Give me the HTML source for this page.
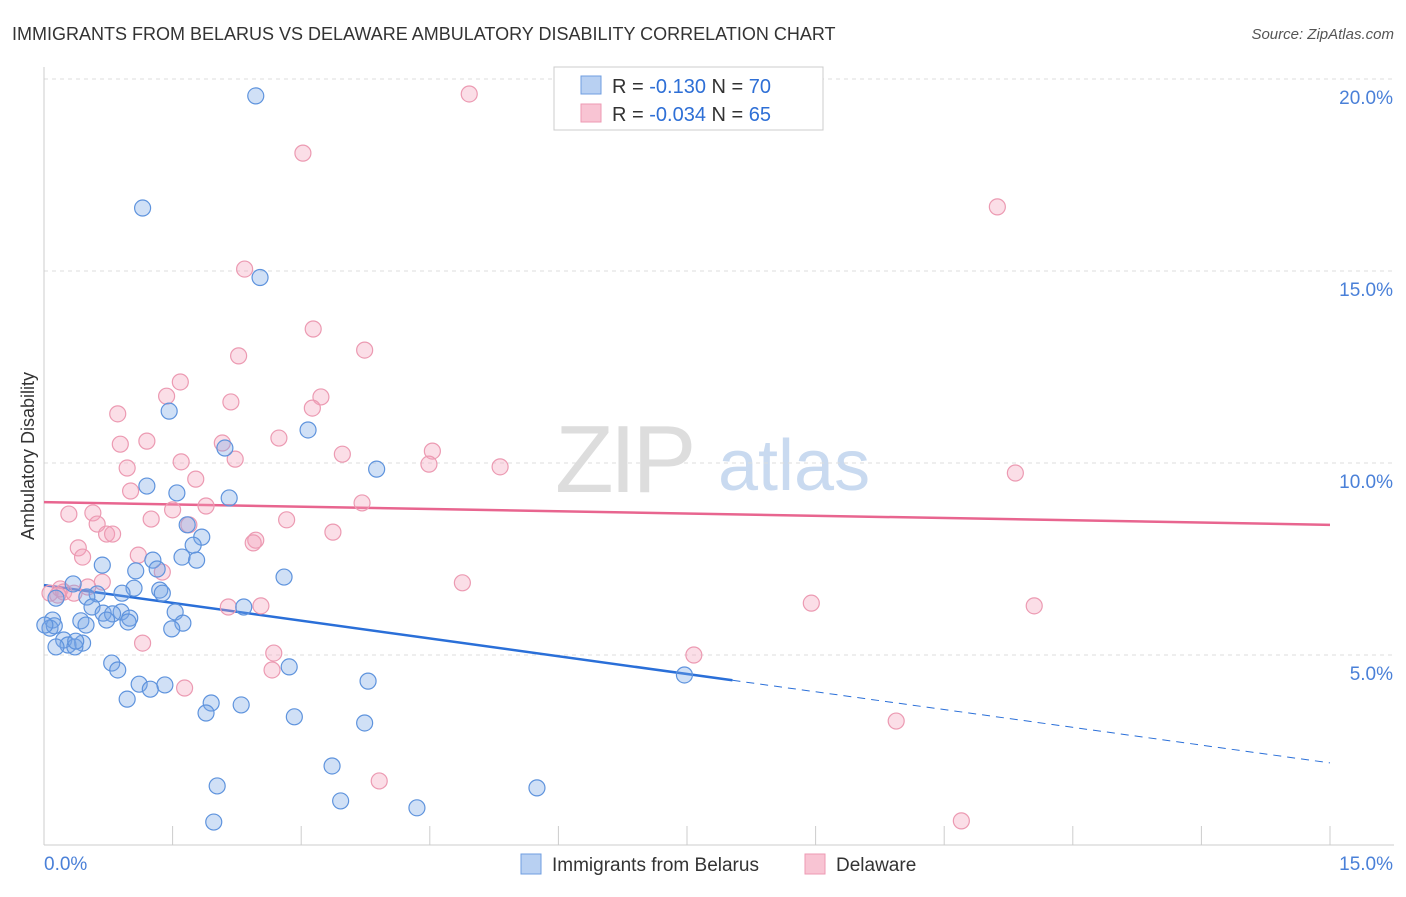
<!DOCTYPE html>
<html><head><meta charset="utf-8"><style>
body{margin:0;background:#fff;font-family:"Liberation Sans",sans-serif}
svg text{font-family:"Liberation Sans",sans-serif}
</style></head><body>
<svg id="chart" width="1406" height="892" viewBox="0 0 1406 892" xmlns="http://www.w3.org/2000/svg">
<text x="12" y="40" font-size="18" fill="#333">IMMIGRANTS FROM BELARUS VS DELAWARE AMBULATORY DISABILITY CORRELATION CHART</text>
<text x="1394" y="39" font-size="15" fill="#555" font-style="italic" text-anchor="end">Source: ZipAtlas.com</text>
<g>
<text x="555" y="492" font-size="96" fill="#ddd" font-family="Liberation Serif" letter-spacing="-4">ZIP</text>
<text x="718" y="490" font-size="72" fill="#c9daf0">atlas</text>
</g>
<g id="grid"></g>
<g id="axes"></g>
<g id="lines"></g>
<g id="pts"></g>
<text transform="translate(34,456) rotate(-90)" font-size="18" fill="#333" text-anchor="middle">Ambulatory Disability</text>
<g>
<rect x="554" y="67" width="269" height="63" fill="#fff" stroke="#ccc"/>
<rect x="581" y="76" width="20" height="18" fill="#b8d0f2" stroke="#6f9ee0"/>
<rect x="581" y="104" width="20" height="18" fill="#f8c4d3" stroke="#ee9ab3"/>
<text x="612" y="93" font-size="20" fill="#333">R = <tspan fill="#2e6fd6">-0.130</tspan>   N = <tspan fill="#2e6fd6">70</tspan></text>
<text x="612" y="121" font-size="20" fill="#333">R = <tspan fill="#2e6fd6">-0.034</tspan>   N = <tspan fill="#2e6fd6">65</tspan></text>
</g>
<g>
<rect x="521" y="854" width="20" height="20" fill="#b8d0f2" stroke="#6f9ee0"/>
<text x="552" y="871" font-size="19" fill="#333">Immigrants from Belarus</text>
<rect x="805" y="854" width="20" height="20" fill="#f8c4d3" stroke="#ee9ab3"/>
<text x="836" y="871" font-size="19" fill="#333">Delaware</text>
</g>
</svg>
<script>
const xTicks=[0,15];
const yTicks=[5,10,15,20];
const blueX=[2.47,1.15,2.52,1.46,3.08,2.11,3.88,1.20,1.55,2.16,1.67,1.84,1.74,1.27,1.61,1.78,0.68,1.07,1.32,2.80,0.34,1.05,1.35,1.38,0.91,0.62,0.50,0.14,0.56,2.33,1.53,0.90,0.69,0.80,1.00,0.43,0.73,0.10,0.98,1.62,1.49,0.49,0.07,0.12,0.23,0.45,0.28,0.14,0.36,0.37,0.79,2.86,0.86,7.47,1.11,3.78,1.41,1.24,0.97,1.95,2.30,1.89,2.92,3.74,3.36,2.02,5.75,3.46,4.35,1.98,0.01];
const blueY=[19.56,16.64,14.83,11.35,10.86,10.39,9.84,9.40,9.22,9.09,8.39,8.07,7.86,7.47,7.55,7.47,7.34,7.19,7.24,7.03,6.85,6.74,6.69,6.61,6.61,6.59,6.51,6.48,6.25,6.25,6.12,6.12,6.09,6.07,5.96,5.89,5.91,5.91,5.86,5.83,5.68,5.78,5.70,5.76,5.39,5.31,5.26,5.21,5.21,5.36,4.79,4.69,4.61,4.48,4.24,4.32,4.22,4.11,3.85,3.75,3.70,3.49,3.39,3.23,2.11,1.59,1.54,1.20,1.02,0.65,5.78];
const pinkX=[4.96,3.02,11.12,2.34,3.14,3.74,2.27,1.59,1.43,3.23,2.18,3.13,0.86,2.74,2.08,1.20,0.89,4.53,3.48,2.23,1.60,4.49,5.32,0.97,11.33,1.77,1.01,3.71,1.89,0.29,0.57,1.25,1.50,2.83,0.62,3.37,1.69,0.73,0.80,2.47,2.44,0.40,1.10,0.45,1.38,0.68,0.51,4.88,0.19,0.07,0.23,0.16,0.35,8.95,11.55,2.53,2.15,1.15,2.68,7.58,2.66,1.64,9.94,3.91,10.70];
const pinkY=[19.61,18.07,16.67,15.05,13.49,12.94,12.79,12.11,11.74,11.72,11.59,11.43,11.28,10.65,10.52,10.57,10.49,10.31,10.23,10.10,10.03,9.97,9.90,9.87,9.74,9.58,9.27,8.96,8.88,8.67,8.70,8.54,8.78,8.52,8.41,8.20,8.39,8.15,8.15,7.99,7.92,7.79,7.60,7.55,7.16,6.90,6.77,6.88,6.72,6.61,6.64,6.56,6.61,6.35,6.28,6.28,6.25,5.31,5.05,5.00,4.61,4.14,3.28,1.72,0.68];
const blueTrend=[6.82,2.19];
const blueSolidEnd=8.03;
const pinkTrend=[8.98,8.39];
const NS='http://www.w3.org/2000/svg';
const X=v=>44+v*(1286/15);
const Y=v=>847-v*38.4;
function mk(tag,attrs,parent){const e=document.createElementNS(NS,tag);for(const k in attrs)e.setAttribute(k,attrs[k]);parent.appendChild(e);return e;}
const grid=document.getElementById('grid'),axes=document.getElementById('axes'),lines=document.getElementById('lines'),pts=document.getElementById('pts');
yTicks.forEach(t=>{
 const l=mk('line',{x1:44,x2:1394,y1:Y(t),y2:Y(t),stroke:'#ddd','stroke-dasharray':'4,4'},grid);
 
 
 const tx=mk('text',{x:1393,y:Y(t)+25,'font-size':19,fill:'#4a80d8','text-anchor':'end'},axes);
 tx.textContent=t.toFixed(1)+'%';
 
 
});
mk('line',{x1:44,x2:44,y1:67,y2:845,stroke:'#ccc'},axes);
mk('line',{x1:44,x2:1394,y1:845,y2:845,stroke:'#ccc'},axes);
for(let i=0;i<=10;i++){const x=X(i*1.5);const t=mk('line',{x1:x,x2:x,y1:826,y2:845,stroke:'#ccc'},axes);
 
 }
xTicks.forEach((t,i)=>{const tx=mk('text',{x:i==0?44:1393,y:870,'font-size':19,fill:'#4a80d8','text-anchor':i==0?'start':'end'},axes);
 tx.textContent=t.toFixed(1)+'%';
 
 });
function drawPts(xs,ys,fill,stroke,name){xs.forEach((x,i)=>{const c=mk('circle',{cx:X(x),cy:Y(ys[i]),r:8,fill:fill,stroke:stroke,'stroke-width':1.2},pts);
 
 });}
drawPts(pinkX,pinkY,'rgba(244,160,185,0.35)','#ec9ab2','delaware-point');
drawPts(blueX,blueY,'rgba(120,165,230,0.35)','#5e93dd','belarus-point');
const bAt=x=>blueTrend[0]+(blueTrend[1]-blueTrend[0])*x/15;
let l1=mk('line',{x1:X(0),y1:Y(pinkTrend[0]),x2:X(15),y2:Y(pinkTrend[1]),stroke:'#e8658f','stroke-width':2.5},lines);


let l2=mk('line',{x1:X(0),y1:Y(bAt(0)),x2:X(blueSolidEnd),y2:Y(bAt(blueSolidEnd)),stroke:'#2a6fd8','stroke-width':2.5},lines);


let l3=mk('line',{x1:X(blueSolidEnd),y1:Y(bAt(blueSolidEnd)),x2:X(15),y2:Y(bAt(15)),stroke:'#2a6fd8','stroke-width':1,'stroke-dasharray':'8,6'},lines);


</script>
</body></html>
